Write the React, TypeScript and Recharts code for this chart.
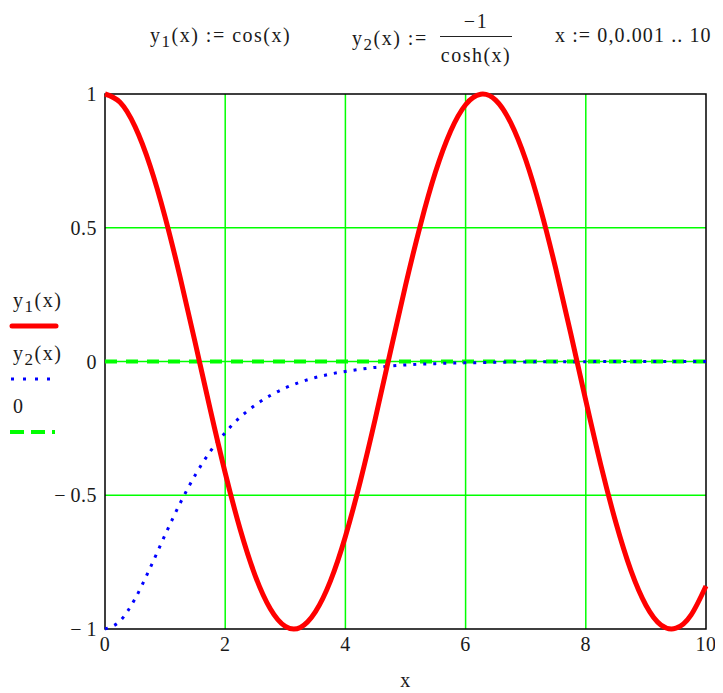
import React from 'react'
import { CartesianGrid, ComposedChart, Legend, Line, ReferenceArea, XAxis, YAxis } from 'recharts'

const xs = [
  0, 0.25, 0.5, 0.75, 1, 1.25, 1.5, 1.75, 2, 2.25, 2.5, 2.75, 3, 3.25, 3.5, 3.75, 4, 4.25, 4.5, 4.75, 5,
  5.25, 5.5, 5.75, 6, 6.25, 6.5, 6.75, 7, 7.25, 7.5, 7.75, 8, 8.25, 8.5, 8.75, 9, 9.25, 9.5, 9.75, 10,
]
const y1 = [
  1.0, 0.969, 0.878, 0.732, 0.54, 0.315, 0.071, -0.178, -0.416, -0.628, -0.801, -0.924, -0.99, -0.994,
  -0.936, -0.821, -0.654, -0.446, -0.211, 0.038, 0.284, 0.512, 0.709, 0.861, 0.96, 0.999, 0.977, 0.893,
  0.754, 0.568, 0.347, 0.104, -0.146, -0.387, -0.602, -0.781, -0.911, -0.985, -0.997, -0.948, -0.839,
]
const y2 = [
  -1.0, -0.97, -0.887, -0.772, -0.648, -0.53, -0.425, -0.337, -0.266, -0.208, -0.163, -0.127, -0.099,
  -0.077, -0.06, -0.047, -0.037, -0.029, -0.022, -0.017, -0.013, -0.01, -0.008, -0.006, -0.005, -0.004,
  -0.003, -0.002, -0.002, -0.001, -0.001, -0.001, -0.001, 0, 0, 0, 0, 0, 0, 0, 0,
]
const zero = xs.map(() => 0)

const xTicks = [0, 2, 4, 6, 8, 10]
const yTicks = [-1, -0.5, 0, 0.5, 1]

const data = xs.map((x, i) => ({ x, y1: y1[i], y2: y2[i], zero: zero[i] }))

const RED = '#ff0000'
const BLUE = '#0000ff'
const GREEN = '#00ff00'
const INK = '#1a1a1a'
const FONT = '"Liberation Serif", "Times New Roman", serif'
const FS = 20
const LS = 1.5

// mathcad writes negatives as "− 0.5"
const fmtY = (v: number) => (v < 0 ? `\u2212\u2009${Math.abs(v)}` : String(v))

const sub = { fontSize: 17, verticalAlign: -5, lineHeight: 0 } as const

const legendLabels: Record<string, React.ReactNode> = {
  y1: (
    <span>
      y<sub style={sub}>1</sub>(x)
    </span>
  ),
  y2: (
    <span>
      y<sub style={sub}>2</sub>(x)
    </span>
  ),
  zero: <span>0</span>,
}

const legendStyles: Record<
  string,
  { color: string; width: number; dash?: string; cap: 'butt' | 'round'; x1: number; x2: number }
> = {
  y1: { color: RED, width: 5, cap: 'round', x1: 4, x2: 48 },
  y2: { color: BLUE, width: 3, dash: '3 9', cap: 'butt', x1: 3, x2: 45 },
  zero: { color: GREEN, width: 4, dash: '14 7', cap: 'butt', x1: 2, x2: 47 },
}

function SideLegend(props: any) {
  const payload: any[] = props.payload || []
  const order = ['y1', 'y2', 'zero']
  return (
    <div style={{ fontFamily: FONT, fontSize: FS, letterSpacing: LS, color: INK }}>
      {order.map((key) => {
        const item = payload.find((p) => p.dataKey === key)
        if (!item) return null
        const s = legendStyles[key]
        return (
          <div key={key} style={{ height: 53 }}>
            <div style={{ paddingLeft: 5, height: 34, lineHeight: '34px' }}>{legendLabels[key]}</div>
            <svg width={56} height={19} style={{ display: 'block' }}>
              <line
                x1={s.x1}
                y1={9}
                x2={s.x2}
                y2={9}
                stroke={s.color}
                strokeWidth={s.width}
                strokeDasharray={s.dash}
                strokeLinecap={s.cap}
              />
            </svg>
          </div>
        )
      })}
    </div>
  )
}

const tickStyle = { fontSize: FS, fill: INK, fontFamily: FONT, letterSpacing: 0.5 }

export default function App() {
  return (
    <div
      style={{
        position: 'relative',
        width: 715,
        height: 685,
        fontFamily: FONT,
        fontSize: FS,
        letterSpacing: LS,
        color: INK,
      }}
    >
      <div style={{ position: 'absolute', left: 142, top: 16, whiteSpace: 'nowrap' }}>
        y<sub style={sub}>1</sub>(x) := cos(x)
      </div>
      <div style={{ position: 'absolute', left: 344, top: 19, whiteSpace: 'nowrap' }}>
        y<sub style={sub}>2</sub>(x) :=
      </div>
      <div
        style={{
          position: 'absolute',
          left: 432,
          top: 0,
          width: 72,
          textAlign: 'center',
          whiteSpace: 'nowrap',
        }}
      >
        <div style={{ height: 28, lineHeight: '26px' }}>{'\u22121'}</div>
        <div style={{ borderTop: '1.5px solid #222', height: 30, lineHeight: '36px' }}>cosh(x)</div>
      </div>
      <div style={{ position: 'absolute', left: 547, top: 16, whiteSpace: 'nowrap', letterSpacing: 1.1 }}>
        x := 0,0.001 .. 10
      </div>

      <ComposedChart
        width={715}
        height={685}
        data={data}
        margin={{ top: 86, right: 17, left: 37, bottom: 2 }}
        style={{ position: 'absolute', left: 0, top: 0 }}
      >
        <CartesianGrid
          stroke={GREEN}
          strokeWidth={1.5}
          verticalValues={[2, 4, 6, 8]}
          horizontalValues={[-0.5, 0, 0.5]}
        />
        <XAxis
          dataKey="x"
          type="number"
          domain={[0, 10]}
          ticks={xTicks}
          height={62}
          axisLine={false}
          tickLine={false}
          tick={tickStyle}
          label={{ value: 'x', position: 'insideBottom', offset: 4, ...tickStyle }}
        />
        <YAxis
          type="number"
          domain={[-1, 1]}
          ticks={yTicks}
          width={60}
          axisLine={false}
          tickLine={false}
          tickFormatter={fmtY}
          tick={tickStyle}
        />
        <Legend
          layout="vertical"
          align="center"
          verticalAlign="middle"
          content={<SideLegend />}
          wrapperStyle={{ left: 0, top: 275, width: 64 }}
        />
        <Line
          dataKey="zero"
          name="0"
          type="linear"
          stroke={GREEN}
          strokeWidth={4}
          strokeDasharray="12 9"
          dot={false}
          isAnimationActive={false}
        />
        <Line
          dataKey="y2"
          name="y2(x)"
          type="monotone"
          stroke={BLUE}
          strokeWidth={3}
          strokeDasharray="3 7"
          dot={false}
          isAnimationActive={false}
        />
        <Line
          dataKey="y1"
          name="y1(x)"
          type="natural"
          stroke={RED}
          strokeWidth={5}
          dot={false}
          isAnimationActive={false}
        />
        <ReferenceArea x1={0} x2={10} y1={-1} y2={1} fill="none" stroke="#000" strokeWidth={1.5} />
      </ComposedChart>
    </div>
  )
}
